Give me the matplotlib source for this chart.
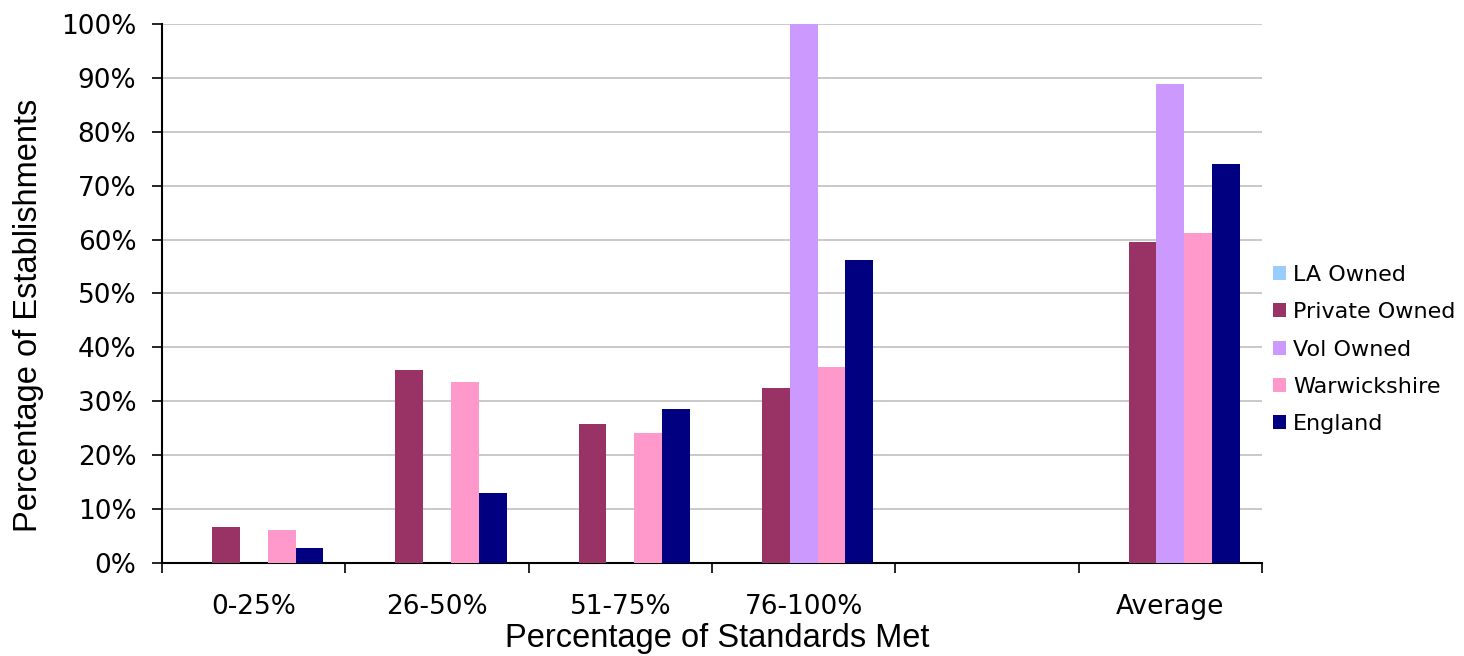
import matplotlib.pyplot as plt
import numpy as np

categories = ['0-25%', '26-50%', '51-75%', '76-100%', '', 'Average']
series = ['LA Owned', 'Private Owned', 'Vol Owned', 'Warwickshire', 'England']
la_owned = [0, 0, 0, 0, 0, 0]
private_owned = [6.7, 35.8, 25.8, 32.5, 0, 59.6]
vol_owned = [0, 0, 0, 100, 0, 88.9]
warwickshire = [6.1, 33.6, 24.1, 36.4, 0, 61.2]
england = [2.8, 13.0, 28.6, 56.2, 0, 74.0]
colors = ['#99ccff', '#993366', '#cc99ff', '#ff99cc', '#000080']

values = [la_owned, private_owned, vol_owned, warwickshire, england]

fig = plt.figure(figsize=[14.64, 6.56], dpi=100)
ax = fig.add_axes([0.1107, 0.1418, 0.7513, 0.8216])

x = np.arange(len(categories))
w = 0.152
for i, (name, vals) in enumerate(zip(series, values)):
    ax.bar(x + (i - 2) * w, vals, w, color=colors[i], label=name, zorder=3)

ax.set_xlim(-0.5, len(categories) - 0.5)
ax.set_ylim(0, 100)
ax.set_yticks(np.arange(0, 101, 10))
ax.set_yticklabels([f'{v}%' for v in range(0, 101, 10)], fontsize=19, family='DejaVu Sans')
ax.grid(axis='y', color='#c0c0c0', linewidth=1.2, zorder=0)

# group boundaries get tick marks, labels sit in the middle
ax.set_xticks(np.arange(-0.5, len(categories), 1))
ax.set_xticklabels([])
ax.set_xticks(x, minor=True)
ax.set_xticklabels(categories, minor=True, fontsize=19, family='DejaVu Sans')
ax.tick_params(axis='x', which='minor', length=0, pad=22)
ax.tick_params(axis='x', which='major', length=7.5, width=1.2, direction='out')
ax.tick_params(axis='y', length=7.5, width=1.2, direction='out', pad=11)

for s in ['top', 'right']:
    ax.spines[s].set_visible(False)
ax.spines['left'].set_linewidth(1.5)
ax.spines['bottom'].set_linewidth(1.5)

ax.set_ylabel('Percentage of Establishments', fontsize=23.5, family='Liberation Sans')
ax.yaxis.set_label_coords(-0.107, 0.46)
ax.set_xlabel('Percentage of Standards Met', fontsize=23.5, family='Liberation Sans')
ax.xaxis.set_label_coords(0.5045, -0.112)

leg = ax.legend(loc='center left', bbox_to_anchor=(1.0, 0.396), frameon=False,
                prop={'family': 'DejaVu Sans', 'size': 16},
                handlelength=0.6, handleheight=0.6, handletextpad=0.3, labelspacing=0.78,
                borderpad=0.3, borderaxespad=0.2)

plt.savefig('out.png', dpi=100)
